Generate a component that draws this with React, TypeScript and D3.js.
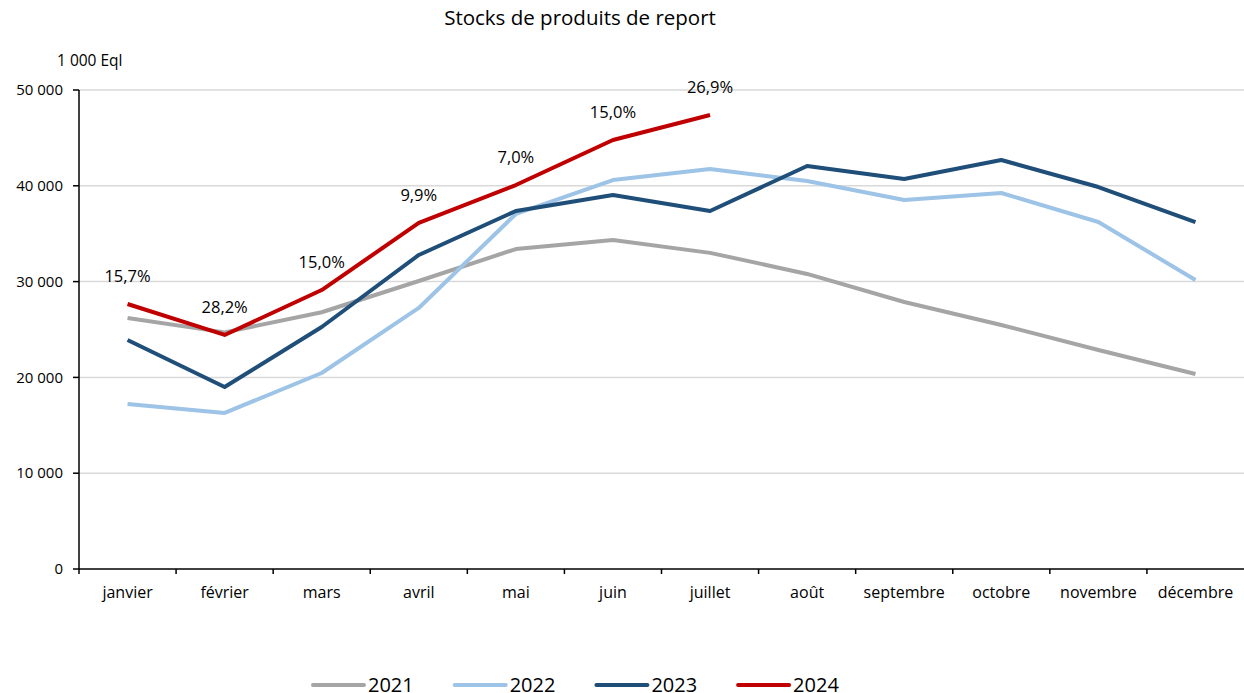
import React from "react";
import * as d3 from "d3";

const MONTHS = ["janvier", "février", "mars", "avril", "mai", "juin", "juillet", "août", "septembre", "octobre", "novembre", "décembre"];

const S2021 = [26200, 24700, 26800, 30060, 33400, 34350, 33000, 30800, 27870, 25470, 22860, 20360];
const S2022 = [17220, 16290, 20460, 27250, 37060, 40600, 41760, 40500, 38520, 39250, 36220, 30170];
const S2023 = [23900, 19000, 25260, 32780, 37370, 39040, 37370, 42070, 40710, 42690, 39870, 36220];
const S2024 = [27660, 24430, 29120, 36120, 40080, 44780, 47390];
const LABELS_2024 = ["15,7%", "28,2%", "15,0%", "9,9%", "7,0%", "15,0%", "26,9%"];

const Y_TICKS = [0, 10000, 20000, 30000, 40000, 50000];

const SERIES = [
  { name: "2021", values: S2021, color: "#A5A5A5" },
  { name: "2022", values: S2022, color: "#9DC3E6" },
  { name: "2023", values: S2023, color: "#1F4E79" },
  { name: "2024", values: S2024, color: "#C00000" },
];

const W = 1244;
const H = 693;
const M = { top: 90, right: 0, bottom: 124, left: 79 };
const FONT = "'Open Sans', sans-serif";

const fmt = (v: number) => d3.format(",")(v).replace(/,/g, " ");

export default function App() {
  const x = d3.scaleBand<string>().domain(MONTHS).range([M.left, W - M.right]);
  const y = d3.scaleLinear().domain([0, 50000]).range([H - M.bottom, M.top]);
  const cx = (i: number) => (x(MONTHS[i]) as number) + x.bandwidth() / 2;
  const line = d3
    .line<number>()
    .x((_, i) => cx(i))
    .y((d) => y(d));

  const y0 = y(0);

  return (
    <svg
      width={W}
      height={H}
      style={{ position: "absolute", top: 0, left: 0, background: "#fff" }}
      fontFamily={FONT}
    >
      <text x={580} y={25} textAnchor="middle" fontSize={20.5} fill="#000">
        Stocks de produits de report
      </text>
      <text x={57} y={66} fontSize={15.5} fill="#000">1 000 Eql</text>

      {/* grid + y labels */}
      {Y_TICKS.map((t) => (
        <g key={t}>
          {t > 0 && (
            <line x1={M.left} x2={W - M.right} y1={y(t)} y2={y(t)} stroke="#D9D9D9" strokeWidth={1.5} />
          )}
          <line x1={M.left - 6} x2={M.left} y1={y(t)} y2={y(t)} stroke="#000" strokeWidth={1.5} />
          <text x={63} y={y(t)} dy="0.35em" textAnchor="end" fontSize={15} fill="#000">
            {fmt(t)}
          </text>
        </g>
      ))}

      {/* x axis */}
      <line x1={M.left} x2={W - M.right} y1={y0} y2={y0} stroke="#000" strokeWidth={1.5} />
      <line x1={M.left} x2={M.left} y1={M.top} y2={y0} stroke="#000" strokeWidth={1.5} />
      {MONTHS.map((m, i) => (
        <g key={m}>
          <line
            x1={x(m) as number}
            x2={x(m) as number}
            y1={y0}
            y2={y0 + 5}
            stroke="#000"
            strokeWidth={1.5}
          />
          <text x={cx(i)} y={y0 + 29} textAnchor="middle" fontSize={16} fill="#000">
            {m}
          </text>
        </g>
      ))}

      {/* series */}
      {SERIES.map((s) => (
        <path
          key={s.name}
          d={line(s.values) || ""}
          fill="none"
          stroke={s.color}
          strokeWidth={4}
          strokeLinejoin="round"
        />
      ))}

      {/* 2024 labels */}
      {S2024.map((v, i) => (
        <text key={i} x={cx(i)} y={y(v) - 22} textAnchor="middle" fontSize={16.5} fill="#000">
          {LABELS_2024[i]}
        </text>
      ))}

      {/* legend */}
      {SERIES.map((s, i) => {
        const lx = 313 + i * 141.7;
        return (
          <g key={s.name}>
            <line x1={lx} x2={lx + 51} y1={685} y2={685} stroke={s.color} strokeWidth={4} strokeLinecap="round" />
            <text x={lx + 55} y={692} fontSize={20} fill="#000">
              {s.name}
            </text>
          </g>
        );
      })}
    </svg>
  );
}
